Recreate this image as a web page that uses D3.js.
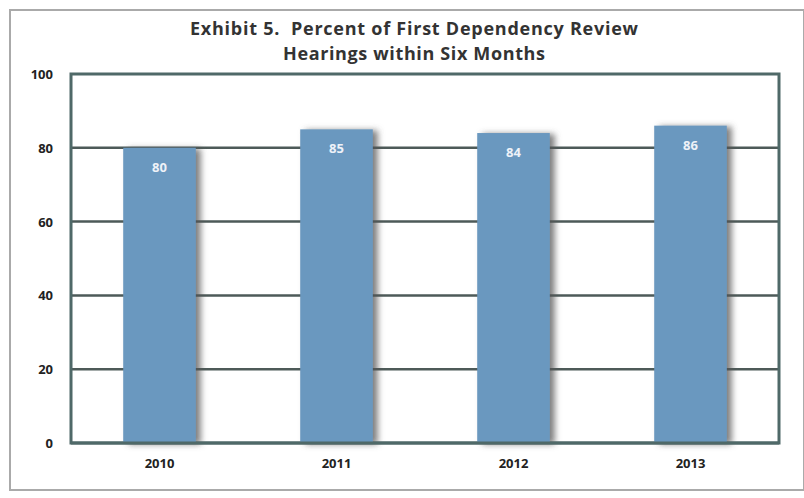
<!DOCTYPE html>
<html>
  <head>
    <meta charset="utf-8">
    <title>Exhibit 5</title>
    <script src="https://d3js.org/d3.v7.min.js"></script>
    <style>
      body { margin: 0; background: #fff; }
    </style>
  </head>
  <body>
    <div id="chart"></div>
    <script>
      const years = ["2010", "2011", "2012", "2013"];
      const percents = [80, 85, 84, 86];
      const yTicks = [0, 20, 40, 60, 80, 100];
      const titleLines = ["Exhibit 5.  Percent of First Dependency Review", "Hearings within Six Months"];

      const width = 804, height = 498;
      const margin = {top: 74, right: 25, bottom: 55, left: 71};
      const font = "'Open Sans', Lato, sans-serif";

      const svg = d3.select("#chart")
                    .append("svg")
                    .attr("width", width)
                    .attr("height", height);

      // shadow on the bars
      const defs = svg.append("defs");
      const filter = defs.append("filter")
                         .attr("id", "shadow")
                         .attr("x", "-20%").attr("y", "-10%")
                         .attr("width", "150%").attr("height", "120%");
      filter.append("feDropShadow")
            .attr("dx", 5).attr("dy", 1)
            .attr("stdDeviation", 3)
            .attr("flood-color", "#555")
            .attr("flood-opacity", 0.75);

      // outer frame
      svg.append("rect")
         .attr("x", 10).attr("y", 10)
         .attr("width", width - 10).attr("height", 480)
         .attr("fill", "#fff")
         .attr("stroke", "#aaa")
         .attr("stroke-width", 2);

      // title (widths)
      const titleWidths = [448, 262];
      svg.selectAll("text.title")
         .data(titleLines)
         .join("text")
         .attr("class", "title")
         .attr("x", 414)
         .attr("y", (d, i) => 35 + i * 25)
         .attr("text-anchor", "middle")
         .attr("font-family", font)
         .attr("font-weight", "bold")
         .attr("font-size", 18)
         .attr("fill", "#333")
         .attr("textLength", (d, i) => titleWidths[i])
         .attr("lengthAdjust", "spacing")
         .style("white-space", "pre")
         .text(d => d);

      const xScale = d3.scaleBand()
                       .domain(years)
                       .range([margin.left, width - margin.right])
                       .paddingInner(0.59)
                       .paddingOuter(0.295);

      const yScale = d3.scaleLinear()
                       .domain([0, 100])
                       .range([height - margin.bottom, margin.top]);

      // grid lines
      svg.selectAll("line.grid")
         .data(yTicks.filter(d => d > 0 && d < 100))
         .join("line")
         .attr("class", "grid")
         .attr("x1", margin.left)
         .attr("x2", width - margin.right)
         .attr("y1", d => yScale(d))
         .attr("y2", d => yScale(d))
         .attr("stroke", "#4d5a58")
         .attr("stroke-width", 2.5);

      // plot border
      svg.append("rect")
         .attr("x", margin.left)
         .attr("y", margin.top)
         .attr("width", width - margin.left - margin.right)
         .attr("height", height - margin.top - margin.bottom)
         .attr("fill", "none")
         .attr("stroke", "#4f6968")
         .attr("stroke-width", 3);

      // bars
      svg.selectAll("rect.bar")
         .data(percents)
         .join("rect")
         .attr("class", "bar")
         .attr("x", (d, i) => xScale(years[i]))
         .attr("y", d => yScale(d))
         .attr("width", xScale.bandwidth())
         .attr("height", d => yScale(0) - yScale(d))
         .attr("fill", "#6a98bf")
         .attr("filter", "url(#shadow)");

      // bottom axis line on top of bars
      svg.append("line")
         .attr("x1", margin.left)
         .attr("x2", width - margin.right)
         .attr("y1", yScale(0))
         .attr("y2", yScale(0))
         .attr("stroke", "#4f6968")
         .attr("stroke-width", 3);

      // value labels
      svg.selectAll("text.value")
         .data(percents)
         .join("text")
         .attr("class", "value")
         .attr("x", (d, i) => xScale(years[i]) + xScale.bandwidth() / 2)
         .attr("y", d => yScale(d) + 24)
         .attr("text-anchor", "middle")
         .attr("font-family", font)
         .attr("font-weight", "bold")
         .attr("font-size", 13)
         .attr("fill", "#eef2f8")
         .text(d => d);

      // y tick labels
      svg.selectAll("text.ytick")
         .data(yTicks)
         .join("text")
         .attr("class", "ytick")
         .attr("x", 53)
         .attr("y", d => yScale(d) + 5)
         .attr("text-anchor", "end")
         .attr("font-family", font)
         .attr("font-weight", "bold")
         .attr("font-size", 13)
         .attr("fill", "#222")
         .text(d => d);

      // x tick labels
      svg.selectAll("text.xtick")
         .data(years)
         .join("text")
         .attr("class", "xtick")
         .attr("x", d => xScale(d) + xScale.bandwidth() / 2)
         .attr("y", yScale(0) + 25)
         .attr("text-anchor", "middle")
         .attr("font-family", font)
         .attr("font-weight", "bold")
         .attr("font-size", 13)
         .attr("fill", "#222")
         .text(d => d);
    </script>
  </body>
</html>
